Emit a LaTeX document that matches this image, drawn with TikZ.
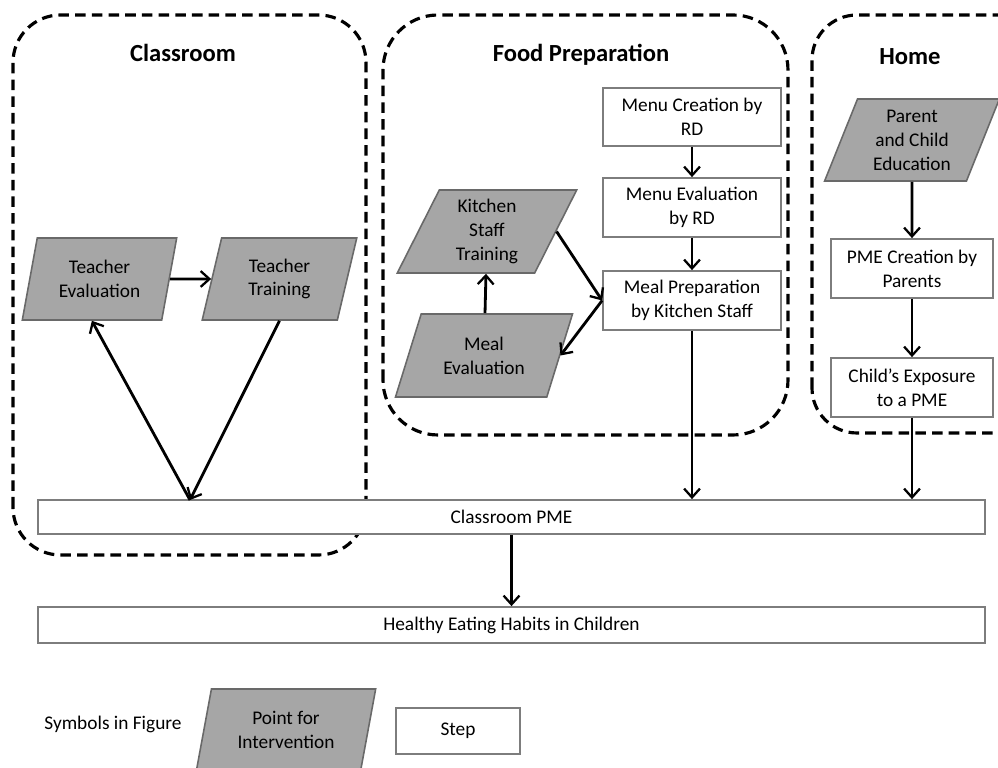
\documentclass[tikz,border=0pt]{standalone}
\usepackage{fontspec}
\setmainfont{Carlito}
\usepackage{tikz}
\usetikzlibrary{arrows.meta}
\usetikzlibrary{shapes.geometric,calc,positioning}

\definecolor{pointgray}{RGB}{166,166,166}
\definecolor{pointline}{RGB}{105,105,105}
\definecolor{stepline}{RGB}{125,125,125}

\tikzset{
	region/.style={draw=black, line width=1.8pt, dash pattern=on 6pt off 3.5pt},
	regiontitle/.style={font=\fontsize{14}{17}\selectfont\bfseries},
	point/.style={trapezium, trapezium stretches=true, trapezium left angle=67, trapezium right angle=113,
		fill=pointgray, draw=pointline, line width=0.9pt, align=center, inner sep=1pt,
		font=\fontsize{11}{13.6}\selectfont},
	stepbox/.style={rectangle, draw=stepline, line width=1pt, fill=white, align=center,
		font=\fontsize{11}{13.6}\selectfont}
}

\begin{document}
\begin{tikzpicture}
		\useasboundingbox (0,0) rectangle (19.96,15.36);
		\clip (0,0) rectangle (19.96,15.36);

		\draw[region, rounded corners=0.95cm] (0.26,4.26) rectangle (7.32,15.06);
		\draw[region, rounded corners=1.1cm] (7.66,6.66) rectangle (15.76,15.06);
		\draw[region, rounded corners=0.9cm] (16.24,6.70) rectangle (20.9,15.06);

		\node[regiontitle] (tclass) at (3.66,14.30) {Classroom};
		\node[regiontitle] (tfood) at (11.62,14.26) {Food Preparation};
		\node[regiontitle] (thome) at (18.2,14.22) {Home};

		\begin{scope}[every node/.style={point, minimum height=1.64cm}]
			\node[minimum width=3.1cm, trapezium left angle=76, trapezium right angle=104] (teacheval) at (1.99,9.78) {Teacher\\Evaluation};
			\node[minimum width=3.1cm, trapezium left angle=76, trapezium right angle=104] (teachtrain) at (5.59,9.78) {Teacher\\Training};
			\node[minimum width=3.6cm, minimum height=1.66cm] (kitchen) at (9.74,10.73) {Kitchen\\Staff\\Training};
			\node[minimum width=3.56cm, minimum height=1.66cm] (mealeval) at (9.68,8.25) {Meal\\Evaluation};
			\node[minimum width=3.52cm, trapezium left angle=69, trapezium right angle=111] (parent) at (18.24,12.56) {Parent\\and Child\\Education};
			\node[minimum width=3.6cm, trapezium left angle=76, trapezium right angle=104] (legendpoint) at (5.72,0.76) {Point for\\Intervention};
		\end{scope}

		\begin{scope}[every node/.style={stepbox}]
			\node[minimum width=3.56cm, minimum height=1.16cm] (menu) at (13.84,13.02) {Menu Creation by\\RD};
			\node[minimum width=3.56cm, minimum height=1.18cm] (menueval) at (13.84,11.21) {Menu Evaluation\\by RD};
			\node[minimum width=3.56cm, minimum height=1.18cm] (mealprep) at (13.84,9.35) {Meal Preparation\\by Kitchen Staff};
			\node[minimum width=3.24cm, minimum height=1.18cm] (pmecreate) at (18.24,9.99) {PME Creation by\\Parents};
			\node[minimum width=3.24cm, minimum height=1.18cm] (exposure) at (18.24,7.61) {Child’s Exposure\\to a PME};
			\node[minimum width=18.94cm, minimum height=0.68cm] (classpme) at (10.23,5.02) {Classroom PME};
			\node[minimum width=18.94cm, minimum height=0.72cm] (healthy) at (10.23,2.86) {Healthy Eating Habits in Children};
			\node[minimum width=2.48cm, minimum height=0.92cm] (legendstep) at (9.16,0.74) {Step};
		\end{scope}

		\node[font=\fontsize{11}{13.6}\selectfont] (symbols) at (2.26,0.88) {Symbols in Figure};

		\coordinate (vtip) at (3.8,5.36);

		\begin{scope}[>={Straight Barb[length=5pt,width=9pt,line width=1.3pt]},
			every edge/.style={draw, line width=1.6pt, ->}]
			\path (teacheval) edge (teachtrain);
			\path (vtip) edge (teacheval.bottom side);
			\path (teachtrain.south) edge (vtip);
			\path (menu) edge (menueval);
			\path (menueval) edge (mealprep);
			\path (mealeval) edge (kitchen);
			\path (kitchen.right side) edge (mealprep.west);
			\path (mealprep.west) edge (mealeval.right side);
			\path (mealprep) edge (mealprep |- classpme.north);
			\path (parent) edge (pmecreate);
			\path (pmecreate) edge (exposure);
			\path (exposure) edge (exposure |- classpme.north);
			\path (classpme) edge (healthy);
		\end{scope}
	\end{tikzpicture}
\end{document}
